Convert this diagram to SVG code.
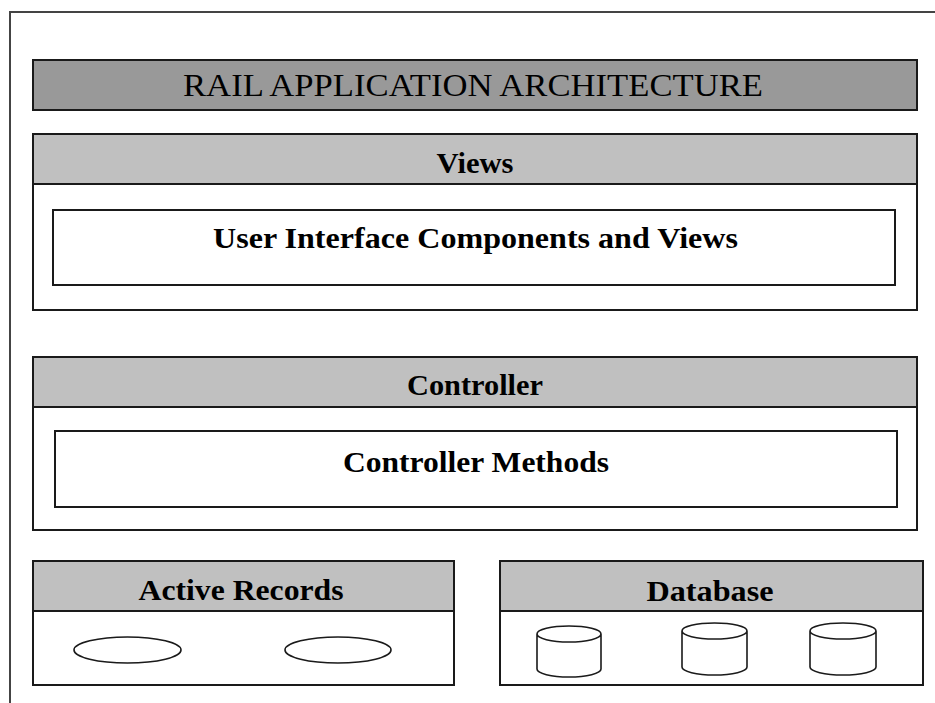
<svg xmlns="http://www.w3.org/2000/svg" width="935" height="703" viewBox="0 0 935 703">
<style>
.box{fill:#ffffff;stroke:#1a1a1a;stroke-width:2}
.hdr{fill:#c0c0c0;stroke:#1a1a1a;stroke-width:2}
.ttl{fill:#999999;stroke:#1a1a1a;stroke-width:2}
.frame{fill:none;stroke:#444;stroke-width:2}
.shape{fill:#ffffff;stroke:#1a1a1a;stroke-width:1.6}
text{font-family:"Liberation Serif","Times New Roman",serif;fill:#000;text-anchor:middle}
.t1{font-size:31px}
.t2{font-size:29px;font-weight:bold}
</style>
<rect width="935" height="703" fill="#ffffff"/>
<path class="frame" d="M10,703 V12 H935"/>
<g id="title">
<rect class="ttl" x="33" y="60" width="884" height="50"/>
<text class="t1" x="473" y="96" textLength="580" lengthAdjust="spacingAndGlyphs">RAIL APPLICATION ARCHITECTURE</text>
</g>
<g id="views">
<rect class="box" x="33" y="134" width="884" height="176"/>
<rect class="hdr" x="33" y="134" width="884" height="50"/>
<text class="t2" x="475" y="173" textLength="77" lengthAdjust="spacingAndGlyphs">Views</text>
</g>
<g id="ui-components">
<rect class="box" x="53" y="210" width="842" height="75"/>
<text class="t2" x="475.5" y="248" textLength="525" lengthAdjust="spacingAndGlyphs">User Interface Components and Views</text>
</g>
<g id="controller">
<rect class="box" x="33" y="357" width="884" height="173"/>
<rect class="hdr" x="33" y="357" width="884" height="50"/>
<text class="t2" x="475" y="395" textLength="136" lengthAdjust="spacingAndGlyphs">Controller</text>
</g>
<g id="controller-methods">
<rect class="box" x="55" y="431" width="842" height="76"/>
<text class="t2" x="476" y="472" textLength="266" lengthAdjust="spacingAndGlyphs">Controller Methods</text>
</g>
<g id="active-records">
<rect class="box" x="33" y="561" width="421" height="124"/>
<rect class="hdr" x="33" y="561" width="421" height="50"/>
<text class="t2" x="241" y="600" textLength="205" lengthAdjust="spacingAndGlyphs">Active Records</text>
<ellipse class="shape" cx="127.5" cy="650" rx="53.5" ry="13"/>
<ellipse class="shape" cx="338" cy="650" rx="53" ry="13"/>
</g>
<g id="database">
<rect class="box" x="500" y="561" width="423" height="124"/>
<rect class="hdr" x="500" y="561" width="423" height="50"/>
<text class="t2" x="710" y="601" textLength="127" lengthAdjust="spacingAndGlyphs">Database</text>
<path class="shape" d="M537,634 V669 A32,8 0 0 0 601,669 V634 A32,8 0 0 0 537,634 A32,8 0 0 0 601,634"/>
<path class="shape" d="M682,631 V667 A32.5,8 0 0 0 747,667 V631 A32.5,8 0 0 0 682,631 A32.5,8 0 0 0 747,631"/>
<path class="shape" d="M810,631 V667 A33,8 0 0 0 876,667 V631 A33,8 0 0 0 810,631 A33,8 0 0 0 876,631"/>
</g>
<g id="connectors"></g>
</svg>
